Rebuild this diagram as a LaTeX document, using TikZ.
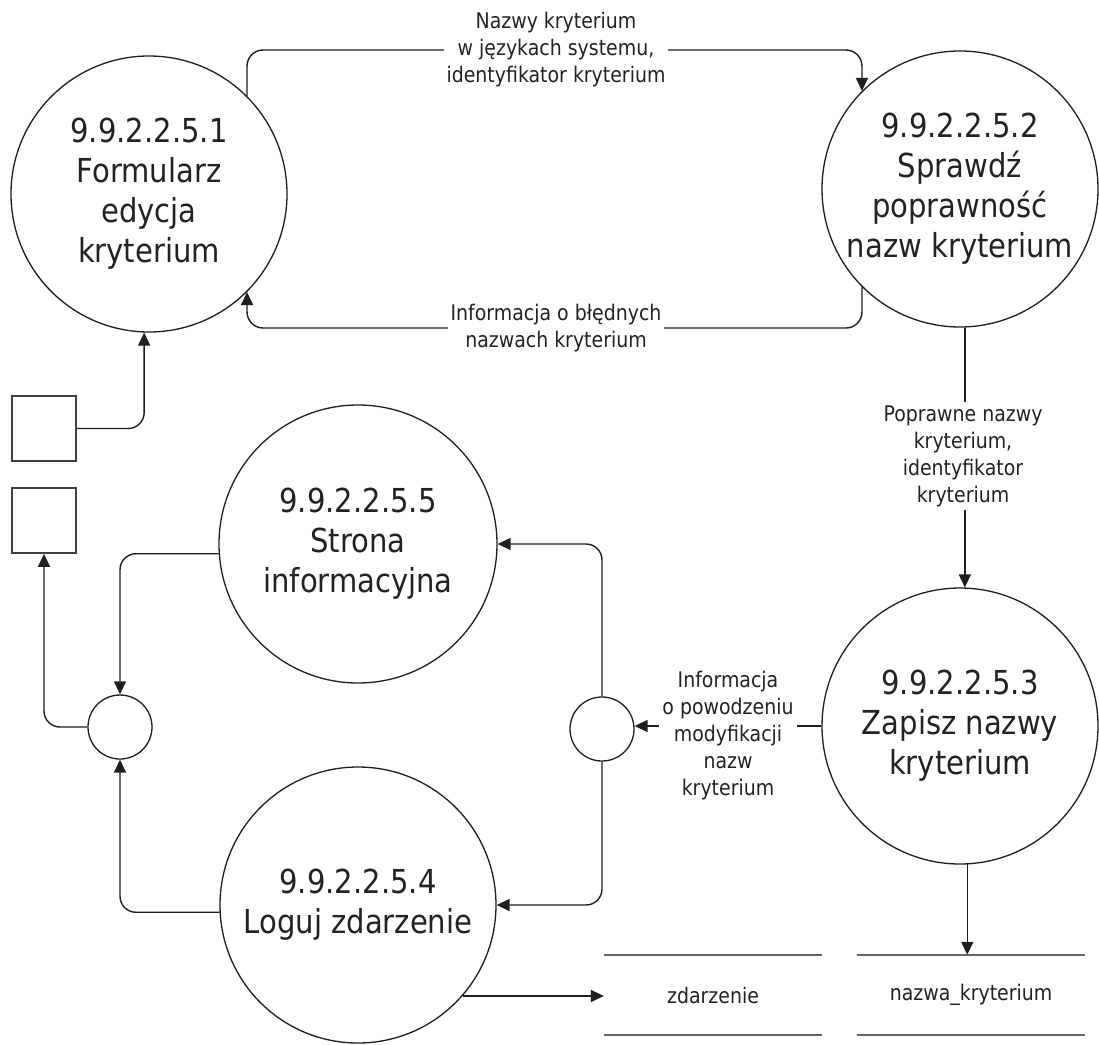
\documentclass[tikz,border=0pt]{standalone}
\usepackage{fontspec}
\setmainfont{DejaVu Sans}[FakeStretch=0.88]
\usetikzlibrary{arrows.meta}
\definecolor{ink}{HTML}{1E1E1E}
\definecolor{txt}{HTML}{222222}
\definecolor{storegray}{HTML}{666666}
\begin{document}
\begin{tikzpicture}[x=1pt,y=-1pt,
  proc/.style={circle,draw=ink,line width=1.3pt,minimum size=#1,inner sep=0pt,align=center,text=txt,font=\fontsize{33}{40}\selectfont},
  junc/.style={circle,draw=ink,line width=1.3pt,minimum size=64pt,inner sep=0pt},
  ext/.style={rectangle,draw=ink!85,line width=1.7pt,minimum width=64pt,minimum height=65pt,inner sep=0pt},
  store/.style={minimum width=#1,minimum height=80pt,inner sep=0pt,text=txt,font=\fontsize{21.5}{27}\selectfont},
  storeline/.style={draw=storegray,line width=2.4pt},
  flow/.style={draw=ink,line width=1.4pt,rounded corners=16pt,-{Triangle[length=13pt,width=12pt]}},
  lbl/.style={fill=white,inner sep=3pt,align=center,text=txt,font=\fontsize{21.5}{27}\selectfont}
]
\useasboundingbox (0,0) rectangle (1099,1044);
\fill[white] (0,0) rectangle (1099,1044);

\node[proc=276pt] (C1) at (149,194) {9.9.2.2.5.1\\Formularz\\edycja\\kryterium};
\node[proc=276pt] (C2) at (960,189) {9.9.2.2.5.2\\Sprawdź\\poprawność\\nazw kryterium};
\node[proc=276pt] (C3) at (960,726) {9.9.2.2.5.3\\Zapisz nazwy\\kryterium};
\node[proc=276pt] (C4) at (358,905) {9.9.2.2.5.4\\Loguj zdarzenie};
\node[proc=278pt] (C5) at (358,544) {9.9.2.2.5.5\\Strona\\informacyjna};
\node[junc] (J1) at (120,727) {};
\node[junc] (J2) at (602,729) {};
\node[ext] (E1) at (44,428.5) {};
\node[ext] (E2) at (44,520.5) {};
\node[store=218pt] (S1) at (713,995) {zdarzenie};
\node[store=228pt] (S2) at (971,995) {nazwa\_kryterium};

\coordinate (t1) at (556,50);
\coordinate (t2) at (556,328);

\draw[flow] (C1.45) -- (C1.45 |- t1) -- (C2.135 |- t1) -- (C2.135);
\draw[flow] (C2.225) -- (C2.225 |- t2) -- (C1.315 |- t2) -- (C1.315);
\draw[flow] (E1.east) -- (E1.east -| C1.-92) -- (C1.-92);
\draw[flow] (C2.-88) -- (C3.88);
\draw[flow] (C3.-87) -- (C3.-87 |- S2.north);
\draw[flow] (C3.west) -- (C3.west -| J2.east);
\draw[flow] (J2.north) -- (J2.north |- C5.east) -- (C5.east);
\draw[flow] (J2.south) -- (J2.south |- C4.east) -- (C4.east);
\draw[flow] (C5.184) -- (C5.184 -| J1.north) -- (J1.north);
\draw[flow] (C4.183) -- (C4.183 -| J1.south) -- (J1.south);
\draw[flow] (J1.west) -- (J1.west -| E2.south) -- (E2.south);
\draw[flow] (C4.-41) -- (C4.-41 -| S1.west);

\draw[storeline] (S1.north west) -- (S1.north east) (S1.south west) -- (S1.south east);
\draw[storeline] (S2.north west) -- (S2.north east) (S2.south west) -- (S2.south east);

\node[lbl] (L1) at (t1) {Nazwy kryterium\\w językach systemu,\\identyfikator kryterium};
\node[lbl] (L2) at (t2) {Informacja o błędnych\\nazwach kryterium};
\node[lbl] (L3) at (963,456) {Poprawne nazwy\\kryterium,\\identyfikator\\kryterium};
\node[lbl] (L4) at (728,736) {Informacja\\o powodzeniu\\modyfikacji\\nazw\\kryterium};
\end{tikzpicture}
\end{document}
